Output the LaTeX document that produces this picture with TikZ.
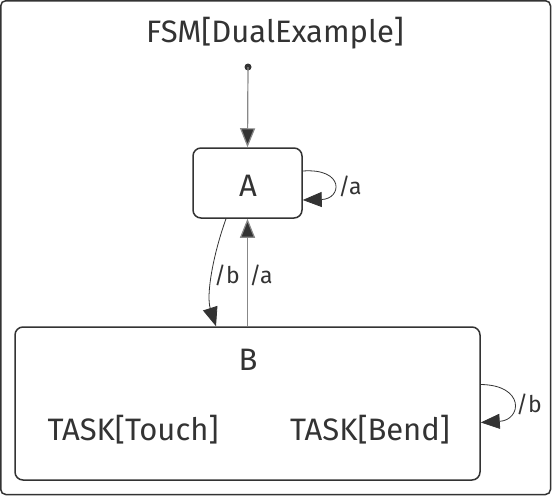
\documentclass[tikz,border=0pt]{standalone}
\usepackage{fontspec}
\setmainfont{Fira Sans}
\usetikzlibrary{arrows.meta}
\definecolor{ink}{HTML}{333333}
\definecolor{lgray}{HTML}{888888}
\tikzset{
  state/.style={draw=ink, line width=1.5pt, rounded corners=8pt, inner sep=0pt},
  txt/.style={text=ink, inner sep=0pt, font=\fontsize{31}{35}\selectfont},
  lbl/.style={text=ink, inner sep=0pt, font=\fontsize{23}{26}\selectfont},
  tip/.style={-{Triangle[length=19pt,width=15pt]}},
  dline/.style={draw=ink, line width=0.8pt, tip},
  gline/.style={lgray, line width=1.2pt, -{Triangle[length=19pt,width=15pt,fill=ink]}},
}
\begin{document}
\begin{tikzpicture}[x=1pt,y=-1pt]
\useasboundingbox (0,0) rectangle (552,496);
\draw[ink, line width=1.5pt, rounded corners=5pt] (0.75,0.75) rectangle (550.5,494.5);
\node[txt] (title) at (275,33) {FSM[DualExample]};
\fill[ink] (248,67) circle (3.5pt);
\coordinate (init) at (248,67);
\node[state, minimum width=109pt, minimum height=70pt] (A) at (247.5,183) {};
\node[txt] (Alab) at (248,186) {A};
\node[state, minimum width=465pt, minimum height=153pt] (B) at (247.5,403.5) {};
\node[txt] (Blab) at (248,360) {B};
\node[txt] (t1) at (133,430) {TASK[Touch]};
\node[txt] (t2) at (370,430) {TASK[Bend]};
% initial
\draw[gline] (init) -- (A.north);
% A -> B
\draw[dline] ([xshift=-21.5pt]A.south) .. controls (213,255) and (206,295) .. ([xshift=-31.5pt]B.north);
\node[lbl] (lb1) at (227,275) {/b};
% B -> A
\draw[gline] (B.north) -- (A.south);
\node[lbl] (la1) at (261,275) {/a};
% A self loop
\draw[dline] ([yshift=12pt]A.east) .. controls (345,168) and (342,199) .. ([yshift=-17pt]A.east);
\node[lbl] (la2) at (350,186) {/a};
% B self loop
\draw[dline] ([yshift=19pt]B.east) .. controls (525,385) and (522,420) .. ([yshift=-19pt]B.east);
\node[lbl] (lb2) at (529,404) {/b};
\end{tikzpicture}
\end{document}
